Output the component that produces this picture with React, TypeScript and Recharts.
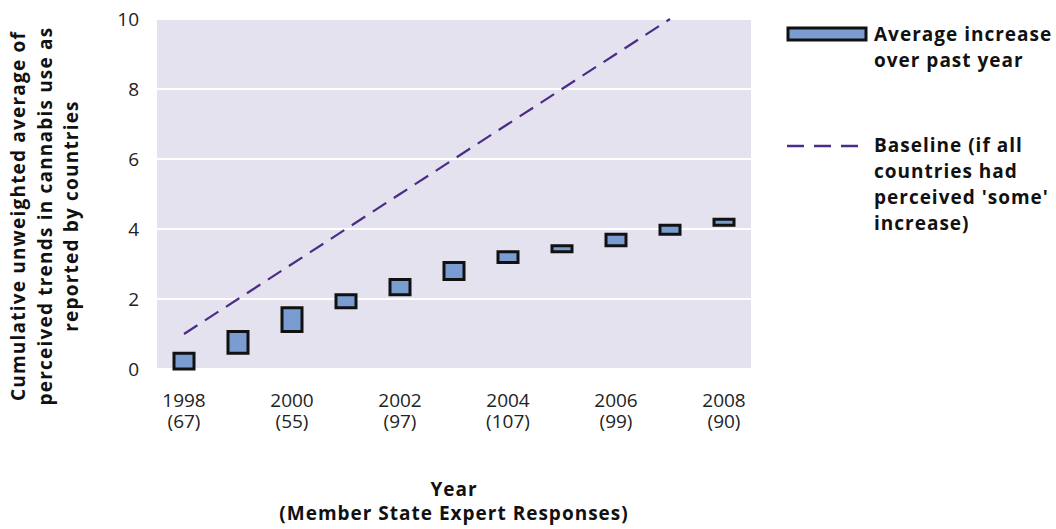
import { ComposedChart, Bar, Line, XAxis, YAxis, CartesianGrid, Legend } from "recharts"

const years = ["1998", "1999", "2000", "2001", "2002", "2003", "2004", "2005", "2006", "2007", "2008"]
// number of expert responses, printed under the labelled years only
const responses = [67, null, 55, null, 97, null, 107, null, 99, null, 90]
// cumulative average at the end of each year (box = previous -> current)
const cumulative = [0.45, 1.07, 1.75, 2.12, 2.56, 3.04, 3.35, 3.52, 3.85, 4.11, 4.28]
const baseline = [1, 2, 3, 4, 5, 6, 7, 8, 9, 10, null]
const yTicks = [0, 2, 4, 6, 8, 10]

const FONT = "'Open Sans', 'Noto Sans', sans-serif"
const BOX_FILL = "#7b9cd0"
const LINE_COLOR = "#4b2c87"

const data = years.map((year, i) => ({
  year,
  responses: responses[i],
  range: [i === 0 ? 0 : cumulative[i - 1], cumulative[i]],
  baseline: baseline[i],
}))

const boldText = { fontFamily: FONT, fontSize: 19, fontWeight: "bold" as const, fill: "#111", letterSpacing: 1 }

const YearTick = (props: any) => {
  const { x, y, payload, index } = props
  const row = data.find((d) => d.year === payload.value)
  return (
    <text x={x} y={y} textAnchor="middle" fontFamily={FONT} fontSize={19} fill="#222" key={index}>
      <tspan x={x} dy={30}>{payload.value}</tspan>
      {row && row.responses != null && <tspan x={x} dy={21}>({row.responses})</tspan>}
    </text>
  )
}

const XTitle = (props: any) => {
  const vb = props.viewBox
  const cx = vb.x + vb.width / 2
  return (
    <text x={cx} y={496} textAnchor="middle" {...boldText}>
      <tspan x={cx}>Year</tspan>
      <tspan x={cx} dy={24}>(Member State Expert Responses)</tspan>
    </text>
  )
}

const YTitle = () => {
  const lines = [
    "Cumulative unweighted average of",
    "perceived trends in cannabis use as",
    "reported by countries",
  ]
  return (
    <g transform="translate(0, 216) rotate(-90)">
      {lines.map((t, i) => (
        <text key={t} x={0} y={25 + i * 26.5} textAnchor="middle" {...boldText} letterSpacing={1.2}>
          {t}
        </text>
      ))}
    </g>
  )
}

const LegendBox = () => {
  return (
    <svg width={278} height={240} style={{ display: "block" }}>
      <rect x={10} y={10} width={78} height={12} fill={BOX_FILL} stroke="#111" strokeWidth={3} />
      <text x={96} y={23} {...boldText}>Average increase</text>
      <text x={96} y={49} {...boldText}>over past year</text>
      <line x1={9} x2={84} y1={128} y2={128} stroke={LINE_COLOR} strokeWidth={2.5} strokeDasharray="17 10" />
      <text x={96} y={134} {...boldText}>Baseline (if all</text>
      <text x={96} y={160} {...boldText}>countries had</text>
      <text x={96} y={186} {...boldText}>perceived 'some'</text>
      <text x={96} y={212} {...boldText}>increase)</text>
    </svg>
  )
}

export default function App() {
  return (
    <div style={{ position: "absolute", left: 0, top: 0, background: "#fff" }}>
      <ComposedChart width={1056} height={529} data={data} margin={{ top: 19, right: 305, bottom: 0, left: 0 }}>
        <CartesianGrid vertical={false} stroke="#ffffff" strokeWidth={2} fill="#e4e2ee" />
        <XAxis
          dataKey="year"
          interval={1}
          height={160}
          axisLine={false}
          tickLine={false}
          tick={<YearTick />}
          label={<XTitle />}
        />
        <YAxis
          domain={[0, 10]}
          ticks={yTicks}
          width={157}
          axisLine={false}
          tickLine={false}
          tickSize={6}
          tickMargin={12}
          tick={{ fontFamily: FONT, fontSize: 19, fill: "#222" }}
          label={<YTitle />}
        />
        <Legend
          layout="vertical"
          align="center"
          verticalAlign="middle"
          content={() => <LegendBox />}
          wrapperStyle={{ left: 778, top: 18, width: 278, height: 240 }}
        />
        <Bar dataKey="range" barSize={20} fill={BOX_FILL} stroke="#111" strokeWidth={3} isAnimationActive={false} />
        <Line
          dataKey="baseline"
          type="linear"
          stroke={LINE_COLOR}
          strokeWidth={2.2}
          strokeDasharray="16 9"
          dot={false}
          activeDot={false}
          isAnimationActive={false}
        />
      </ComposedChart>
    </div>
  )
}
